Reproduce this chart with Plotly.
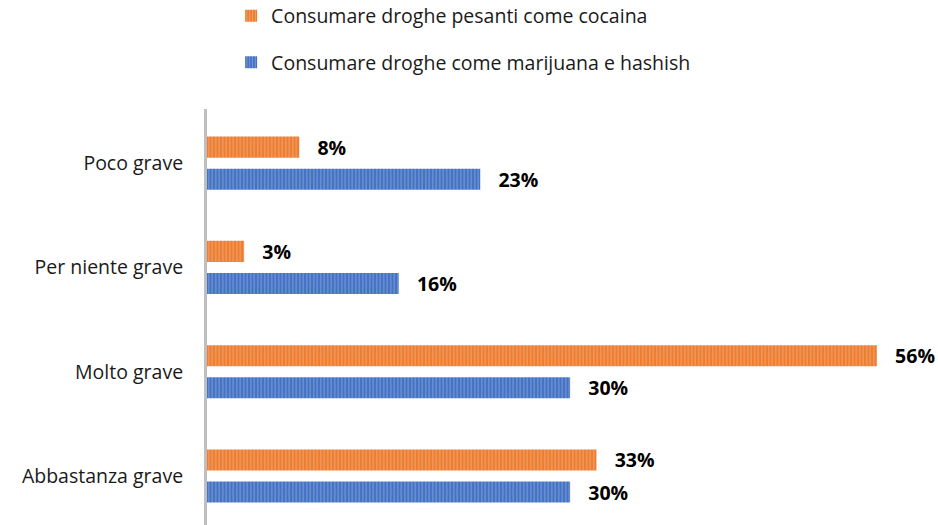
import plotly.graph_objects as go

categories = ["Abbastanza grave", "Molto grave", "Per niente grave", "Poco grave"]
series_cocaina_name = "Consumare droghe pesanti come cocaina"
series_marijuana_name = "Consumare droghe come marijuana e hashish"
cocaina_values = [32.5, 55.9, 3.1, 7.7]
marijuana_values = [30.3, 30.3, 16.0, 22.8]

ORANGE = "#ED7D31"
BLUE = "#4472C4"
FONT = "Open Sans"
FS = 19.5

def pattern():
    return dict(shape="|", fillmode="overlay", fgcolor="rgba(255,255,255,0.6)", size=3.5, solidity=0.3)

fig = go.Figure()
fig.add_trace(go.Bar(
    y=categories, x=marijuana_values, orientation="h", name=series_marijuana_name,
    marker=dict(color=BLUE, line=dict(width=0), pattern=pattern()),
    texttemplate="\u00a0\u00a0\u00a0%{x:.0f}%", textposition="outside", cliponaxis=False,
    constraintext="none",
    textfont=dict(family=FONT, size=FS, color="black", weight="bold"),
    legendgroup="b", legendrank=2,
))
fig.add_trace(go.Bar(
    y=categories, x=cocaina_values, orientation="h", name=series_cocaina_name,
    marker=dict(color=ORANGE, line=dict(width=0), pattern=pattern()),
    texttemplate="\u00a0\u00a0\u00a0%{x:.0f}%", textposition="outside", cliponaxis=False,
    constraintext="none",
    textfont=dict(family=FONT, size=FS, color="black", weight="bold"),
    legendgroup="a", legendrank=1,
))

fig.update_layout(
    width=938, height=525,
    margin=dict(l=207, r=0, t=109, b=0, autoexpand=False),
    paper_bgcolor="white", plot_bgcolor="white",
    barmode="group", bargap=0.385, bargroupgap=0.34,
    font=dict(family=FONT, size=FS, color="#1a1a1a"),
    showlegend=True,
    legend=dict(
        x=0.033, y=1.27, xanchor="left", yanchor="top",
        orientation="v", tracegroupgap=18, font=dict(family=FONT, size=FS, color="#1a1a1a"),
        traceorder="grouped",
    ),
    xaxis=dict(range=[0, 61], visible=False, showgrid=False, zeroline=False),
    yaxis=dict(
        range=[-0.47, 3.52], showgrid=False, zeroline=False, automargin=False,
        showline=True, linecolor="#BFBFBF", linewidth=3,
        ticks="", ticklabelstandoff=17,
        tickfont=dict(family=FONT, size=FS, color="#1a1a1a"),
    ),
)

fig.write_html("out.html")
